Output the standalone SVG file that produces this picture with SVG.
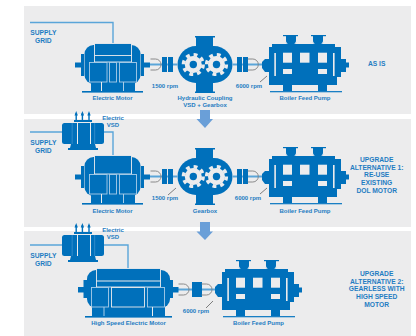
<svg xmlns="http://www.w3.org/2000/svg" width="416" height="336" viewBox="0 0 416 336">
<style>
.p{fill:#ececed}
.b{fill:#0070bb}
.w{fill:#ececed}
.l{fill:none;stroke:#a8cde8;stroke-width:.9}
.wire{fill:none;stroke:#5aa5d9;stroke-width:1.4}
.shaft{fill:none;stroke:#5aa5d9;stroke-width:2.2}
.rot{fill:none;stroke:#808080;stroke-width:.9}
.lead{stroke:#707070;stroke-width:.9}
text{font-family:"Liberation Sans",Arial,sans-serif;font-weight:700;fill:#1f7cc2;text-anchor:middle}
.s{font-size:6px}
.t{font-size:6.7px}
</style>
<defs>
<g id="gear"><circle r="8.500" fill="#ececed"/><circle r="9.800" fill="none" stroke="#ececed" stroke-width="3.600" stroke-dasharray="3.800 3.900"/><circle r="3.700" class="b"/></g>
<path id="rot" class="rot" d="M-5,-5.500 H0 A5.500,5.500 0 0 1 0,5.500 H-5"/>
<g id="motor">
<rect x="75" y="62.500" width="9" height="5" class="b"/><rect x="81" y="54" width="3" height="22" class="b"/>
<rect x="141" y="54" width="3" height="22" class="b"/><rect x="141" y="62.500" width="9" height="5" class="b"/>
<rect x="84.500" y="45" width="56" height="39" rx="9" class="b"/>
<rect x="91" y="82" width="44" height="9" class="b"/>
<rect x="82" y="91" width="61" height="1.600" class="b"/>
<rect x="94.500" y="43.500" width="37" height="18.500" class="b" stroke="#ececed" stroke-width=".9"/>
<rect x="89.500" y="62.500" width="17.500" height="19.500" class="l"/><rect x="109.500" y="62.500" width="7" height="19.500" class="l"/><rect x="119.500" y="62.500" width="17" height="19.500" class="l"/>
<line x1="101.500" y1="82" x2="101.500" y2="91" stroke="#ececed"/><line x1="123.500" y1="82" x2="123.500" y2="91" stroke="#a8cde8"/>
</g>
<g id="coupling">
<rect x="0" y="-7.500" width="5" height="15" class="b"/><rect x="6" y="-7.500" width="5" height="15" class="b"/>
</g>
<g id="hyd">
<rect x="196" y="36.500" width="17" height="56" class="b"/>
<rect x="195" y="36" width="20" height="1.500" class="b"/><rect x="195" y="91.500" width="20" height="1.500" class="b"/>
<path class="b" d="M196,46 H214 A18.500,18.500 0 0 1 214,83 H196 A18.500,18.500 0 0 1 196,46Z"/>
<use href="#gear" x="193.300" y="64.500"/><use href="#gear" x="216.500" y="64.500"/>
</g>
<g id="pump">
<path class="b" d="M286,35 H296 V40 C296,44 293,46 291,47 C289,46 286,44 286,40Z"/><rect x="283" y="35" width="15" height="1.200" class="b"/>
<path class="b" d="M313,35 H323 V40 C323,44 320,46 318,47 C316,46 313,44 313,40Z"/><rect x="311" y="35" width="15" height="1.200" class="b"/>
<path class="l" d="M286,42 C288,47 294,47 296,42 M313,42 C315,47 321,47 323,42"/>
<rect x="272" y="44" width="63" height="5" class="b"/>
<rect x="269" y="47" width="68" height="38" class="b"/>
<rect x="337" y="47" width="4" height="30" class="b"/>
<rect x="341" y="59" width="5" height="13" class="b"/><rect x="346" y="62.500" width="3" height="5" class="b"/>
<path class="b" d="M269,59 V72 H265 L262,68 V62 L265,59Z"/>
<rect x="283" y="52.700" width="9" height="10" class="w"/><rect x="300" y="52.700" width="9.500" height="10" class="w"/><rect x="318" y="52.700" width="9" height="10" class="w"/>
<rect x="283" y="69" width="9" height="5" class="w"/><rect x="318" y="69" width="9" height="5" class="w"/>
<rect x="274.300" y="53" width="1.600" height="23" class="w"/><rect x="333" y="53" width="1.600" height="23" class="w"/>
<rect x="283" y="74" width="9" height="17.500" class="b"/><rect x="318" y="74" width="9" height="17.500" class="b"/>
<rect x="270" y="91" width="72" height="1.300" fill="#1a7fc4"/>
</g>
<g id="trafo">
<rect x="62" y="123" width="42" height="21" rx="2.500" class="b"/>
<rect x="71.800" y="123" width=".6" height="21" fill="#4f9bd4"/><rect x="94.500" y="123" width=".6" height="21" fill="#4f9bd4"/>
<rect x="77" y="123" width="1" height="21" class="w"/><rect x="90" y="123" width="1" height="21" class="w"/>
<rect x="74" y="120" width="18" height="2" class="b"/>
<path class="b" d="M71,144 H95 L96,148 H98 V150 H68 V148 H70Z"/>
<g class="b"><rect x="75.500" y="113" width="1.400" height="7"/><rect x="81.700" y="113" width="1.400" height="7"/><rect x="88.300" y="113" width="1.400" height="7"/>
<path d="M74.500,115.500 H77.900 L76.200,111Z M80.700,115.500 H84.100 L82.400,111Z M87.300,115.500 H90.700 L89,111Z"/></g>
</g>
</defs>

<g id="panels">
<rect class="p" x="24" y="6" width="387" height="108"/>
<rect class="p" x="24" y="119" width="387" height="108"/>
<rect class="p" x="24" y="231" width="387" height="105"/>
</g>

<g id="connectors">
<path class="wire" d="M30,22.500 H113 V45"/>
<path class="wire" d="M30,132 H62 M104,132 H113 V157"/>
<path class="wire" d="M30,245 H62 M104,245 H128 V270"/>
<path class="shaft" d="M150,64.500 H177 M233,64.500 H262"/>
<path class="shaft" d="M150,176.500 H177 M233,176.500 H262"/>
<path class="shaft" d="M178,289.500 H215"/>
<g fill="#6a9fd8"><path d="M200,110 H210 V119 H213 L205,128 L196.500,119 H200Z"/><path d="M200,222 H210 V231.500 H213 L205,240 L196.500,231.500 H200Z"/></g>
<g class="lead"><line x1="260" y1="82" x2="267" y2="76"/><line x1="168" y1="195" x2="176" y2="188"/><line x1="260" y1="194" x2="267" y2="188"/><line x1="206" y1="308" x2="213" y2="301"/></g>
</g>

<g id="n1">
<text x="43.300" y="35.200" class="t">SUPPLY</text><text x="43.300" y="42.800" class="t">GRID</text>
<use id="m1" href="#motor"/><line x1="94.500" y1="55.500" x2="131.500" y2="55.500" stroke="#ececed" stroke-width=".9"/><text x="112.500" y="99.800" class="s">Electric Motor</text>
<use href="#rot" x="155.500" y="64.500"/><use href="#coupling" x="162" y="64.500"/>
<text x="165" y="87.800" class="s">1500 rpm</text>
<use href="#hyd"/><text x="205" y="100" class="s">Hydraulic Coupling</text><text x="205" y="107" class="s">VSD + Gearbox</text>
<use href="#coupling" x="237" y="64.500"/><use href="#rot" x="252.800" y="64.500"/>
<text x="249" y="87.800" class="s">6000 rpm</text>
<use href="#pump"/><text x="305" y="100" class="s">Boiler Feed Pump</text>
<text x="376.700" y="65.800" class="t">AS IS</text>
</g>

<g id="n2">
<use href="#trafo"/>
<text x="113" y="120" class="s">Electric</text><text x="113" y="126.800" class="s">VSD</text>
<text x="43.300" y="144.800" class="t">SUPPLY</text><text x="43.300" y="152.800" class="t">GRID</text>
<use id="m2" href="#motor" y="112"/><text x="112.500" y="212.800" class="s">Electric Motor</text>
<use href="#rot" x="155.500" y="176.500"/><use href="#coupling" x="162" y="176.500"/>
<text x="165" y="199.800" class="s">1500 rpm</text>
<use href="#hyd" y="112"/><text x="205" y="212.800" class="s">Gearbox</text>
<use href="#coupling" x="237" y="176.500"/><use href="#rot" x="252.800" y="176.500"/>
<text x="248" y="199.800" class="s">6000 rpm</text>
<use href="#pump" y="112"/><text x="305" y="212.800" class="s">Boiler Feed Pump</text>
<g><text class="t" x="376.700" y="161.800">UPGRADE</text><text class="t" x="376.700" y="169.500">ALTERNATIVE 1:</text><text class="t" x="376.700" y="177.200">RE-USE</text><text class="t" x="376.700" y="184.900">EXISTING</text><text class="t" x="376.700" y="192.600">DOL MOTOR</text></g>
</g>

<g id="n3">
<use href="#trafo" y="112"/>
<text x="113" y="232" class="s">Electric</text><text x="113" y="238.800" class="s">VSD</text>
<text x="43.300" y="257.500" class="t">SUPPLY</text><text x="43.300" y="265.500" class="t">GRID</text>
<g id="hsmotor">
<rect x="78" y="287" width="9" height="5.500" class="b"/><rect x="83.500" y="280" width="3.500" height="18" class="b"/>
<rect x="169.500" y="280" width="3.500" height="18" class="b"/><rect x="173" y="287" width="5.500" height="5.500" class="b"/>
<rect x="87" y="270" width="83" height="38" rx="9" class="b"/>
<rect x="92" y="306" width="73" height="10" class="b"/>
<rect x="85" y="316" width="87" height="1.600" class="b"/>
<rect x="96.500" y="268.500" width="64" height="18.500" class="b" stroke="#ececed" stroke-width=".9"/><line x1="96.500" y1="281" x2="160.500" y2="281" stroke="#ececed"/>
<rect x="91.500" y="287.500" width="17" height="19.500" class="l"/><rect x="111.500" y="287.500" width="33" height="19.500" stroke="#ececed" fill="none" stroke-width=".9"/><rect x="147.500" y="287.500" width="17" height="19.500" class="l"/>
<line x1="104" y1="307" x2="104" y2="316" stroke="#a8cde8"/><line x1="152.500" y1="307" x2="152.500" y2="316" stroke="#ececed"/>
</g>
<text x="128.500" y="325" class="s">High Speed Electric Motor</text>
<use href="#rot" x="183.500" y="289.500"/><rect x="192" y="282" width="10" height="15" class="b"/><use href="#rot" x="206.500" y="289.500"/>
<text x="196" y="313" class="s">6000 rpm</text>
<use href="#pump" transform="translate(-47,225)"/><text x="258.500" y="325" class="s">Boiler Feed Pump</text>
<g><text class="t" x="376.700" y="275.800">UPGRADE</text><text class="t" x="376.700" y="283.500">ALTERNATIVE 2:</text><text class="t" x="376.700" y="291.200">GEARLESS WITH</text><text class="t" x="376.700" y="298.900">HIGH SPEED</text><text class="t" x="376.700" y="306.600">MOTOR</text></g>
</g>
</svg>
